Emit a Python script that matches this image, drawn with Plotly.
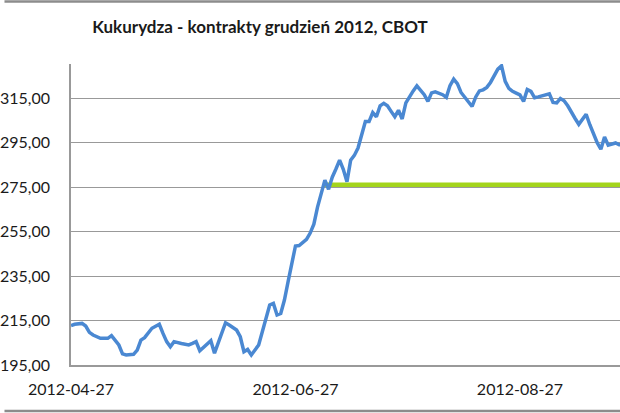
import plotly.graph_objects as go

dates = [
    "2012-04-27", "2012-04-28", "2012-04-30", "2012-05-01", "2012-05-02", "2012-05-03",
    "2012-05-05", "2012-05-07", "2012-05-08", "2012-05-10", "2012-05-11", "2012-05-12",
    "2012-05-14", "2012-05-15", "2012-05-16", "2012-05-17", "2012-05-19", "2012-05-20",
    "2012-05-21", "2012-05-22", "2012-05-23", "2012-05-24", "2012-05-25", "2012-05-27",
    "2012-05-29", "2012-05-30", "2012-05-31", "2012-06-01", "2012-06-03", "2012-06-04",
    "2012-06-05", "2012-06-07", "2012-06-08", "2012-06-09", "2012-06-11", "2012-06-12",
    "2012-06-13", "2012-06-14", "2012-06-15", "2012-06-17", "2012-06-18", "2012-06-19",
    "2012-06-20", "2012-06-21", "2012-06-22", "2012-06-23", "2012-06-24", "2012-06-25",
    "2012-06-26", "2012-06-27", "2012-06-28", "2012-06-30", "2012-07-01", "2012-07-02",
    "2012-07-03", "2012-07-04", "2012-07-05", "2012-07-06", "2012-07-07", "2012-07-08",
    "2012-07-09", "2012-07-10", "2012-07-11", "2012-07-12", "2012-07-13", "2012-07-14",
    "2012-07-15", "2012-07-16", "2012-07-17", "2012-07-18", "2012-07-19", "2012-07-20",
    "2012-07-21", "2012-07-22", "2012-07-23", "2012-07-24", "2012-07-25", "2012-07-26",
    "2012-07-27", "2012-07-28", "2012-07-29", "2012-07-30", "2012-07-31", "2012-08-01",
    "2012-08-02", "2012-08-03", "2012-08-04", "2012-08-05", "2012-08-06", "2012-08-07",
    "2012-08-08", "2012-08-09", "2012-08-10", "2012-08-11", "2012-08-12", "2012-08-13",
    "2012-08-14", "2012-08-15", "2012-08-16", "2012-08-17", "2012-08-18", "2012-08-19",
    "2012-08-20", "2012-08-21", "2012-08-22", "2012-08-23", "2012-08-24", "2012-08-25",
    "2012-08-26", "2012-08-27", "2012-08-28", "2012-08-29", "2012-08-30", "2012-08-31",
    "2012-09-01", "2012-09-02", "2012-09-03", "2012-09-04", "2012-09-05", "2012-09-06",
    "2012-09-07", "2012-09-08", "2012-09-09", "2012-09-10", "2012-09-11", "2012-09-12",
    "2012-09-13", "2012-09-14", "2012-09-15", "2012-09-16", "2012-09-17", "2012-09-18",
    "2012-09-19", "2012-09-20", "2012-09-21", "2012-09-22", "2012-09-23", "2012-09-24",
]

prices = [
    212.7, 213.3, 213.7, 212.5, 209.7, 208.5,
    207.0, 207.0, 208.2, 204.0, 200.0, 199.5,
    199.8, 201.7, 206.2, 207.3, 211.5, 212.5,
    213.3, 209.2, 205.5, 203.2, 205.5, 204.7,
    204.0, 204.7, 205.5, 201.4, 204.7, 205.9,
    200.3, 209.2, 214.0, 213.0, 210.7, 207.7,
    201.0, 202.0, 199.5, 204.0, 210.0, 216.7,
    222.0, 222.7, 217.5, 218.2, 224.2, 232.5,
    240.7, 248.5, 248.7, 251.5, 254.3, 258.3,
    266.0, 271.6, 278.1, 274.0, 279.4, 283.1,
    287.1, 283.0, 277.4, 287.1, 289.2, 292.5,
    298.0, 304.4, 304.4, 308.5, 306.6, 311.5,
    312.6, 311.5, 309.0, 306.6, 309.5, 305.6,
    312.8, 315.8, 318.2, 320.5, 318.2, 316.5,
    313.5, 317.3, 317.8, 317.2, 316.5, 315.3,
    320.6, 323.5, 321.5, 317.5, 315.3, 313.3,
    311.2, 315.5, 318.2, 318.7, 319.8, 322.0,
    324.7, 328.0, 329.5, 322.5, 319.3, 318.0,
    317.2, 316.4, 313.5, 318.8, 318.0, 315.1,
    315.5, 316.0, 316.5, 316.9, 313.0, 312.8,
    314.8, 313.8, 311.5, 309.0, 305.8, 303.2,
    305.3, 307.7, 303.0, 299.0, 294.9, 292.0,
    297.5, 293.8, 294.4, 294.8, 294.0, 293.9,
]

level_dates = ["2012-07-04 14:00", "2012-09-24"]
level_values = [276.0, 276.0]

y_ticks = [195, 215, 235, 255, 275, 295, 315]
x_ticks = ["2012-04-27", "2012-06-27", "2012-08-27"]
title_text = "Kukurydza - kontrakty grudzień 2012, CBOT"

fig = go.Figure()
fig.add_trace(go.Scatter(x=level_dates, y=level_values, mode="lines",
                         line=dict(color="#a3d41c", width=4.5), hoverinfo="skip"))
fig.add_trace(go.Scatter(x=dates, y=prices, mode="lines",
                         line=dict(color="#4a88d2", width=3.5)))

grey = "#999999"
fig.update_layout(
    width=620, height=413,
    margin=dict(l=67, r=0, t=64, b=48),
    paper_bgcolor="white", plot_bgcolor="white",
    showlegend=False,
    separators=", ",
    font=dict(family="Lato", size=16, color="#1a1a1a"),
    title=dict(text="<b>" + title_text + "</b>", x=260 / 620, xanchor="center",
               y=1 - 27 / 413, yanchor="middle",
               font=dict(family="Lato", size=17, color="#1a1a1a")),
    xaxis=dict(type="date", range=["2012-04-27", "2012-09-23 04:48"],
               tickvals=x_ticks, tickformat="%Y-%m-%d",
               showgrid=False, showline=True, linecolor=grey, linewidth=2,
               ticks="", ticklabelstandoff=9, zeroline=False),
    yaxis=dict(range=[195, 330.3], tickvals=y_ticks, tickformat=".2f",
               showgrid=True, gridcolor=grey, gridwidth=1.2,
               showline=True, linecolor=grey, linewidth=1.5,
               ticks="", ticklabelstandoff=16, zeroline=False),
    shapes=[
        dict(type="line", xref="paper", yref="paper", x0=-67 / 553, x1=1,
             y0=(365 - 1.5) / 301, y1=(365 - 1.5) / 301, line=dict(color="#8c8c8c", width=2.5)),
        dict(type="line", xref="paper", yref="paper", x0=-67 / 553, x1=1,
             y0=(365 - 411) / 301, y1=(365 - 411) / 301, line=dict(color="#8c8c8c", width=2.5)),
    ],
)

fig.write_html("out.html", config={"displayModeBar": False},
               post_script="document.body.style.margin='0';")
